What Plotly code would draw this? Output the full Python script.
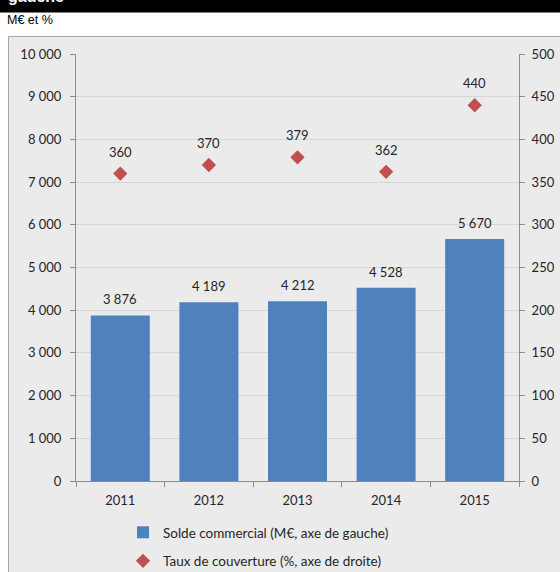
import plotly.graph_objects as go

years = ["2011", "2012", "2013", "2014", "2015"]
solde = [3876, 4189, 4212, 4528, 5670]
taux = [360, 370, 379, 362, 440]
left_ticks = list(range(0, 10001, 1000))
right_ticks = list(range(0, 501, 50))

W, H = 560, 572
L, R, T, B = 76, 41, 54, 91
PW, PH = W - L - R, H - T - B


def px(x):
    return (x - L) / PW


def py(y):
    return (H - B - y) / PH


def fmt(v):
    return f"{v:,}".replace(",", "\u00a0")


FONT = "Lato"
TXT = "#262626"
AXC = "#8c8c8c"
BG = "#ebebeb"

fig = go.Figure()
fig.add_trace(go.Bar(
    x=years, y=solde, name="Solde commercial (M€, axe de gauche)",
    marker=dict(color="#4f81bd", line=dict(width=0)),
    legendgroup="a", yaxis="y",
))
fig.add_trace(go.Scatter(
    x=years, y=taux, mode="markers", name="Taux de couverture (%, axe de droite)",
    marker=dict(symbol="diamond", size=11, color="#c0504d"),
    legendgroup="b", yaxis="y2",
))

ann = []
for i, v in enumerate(solde):
    ann.append(dict(x=i, y=v, xref="x", yref="y", text=fmt(v), showarrow=False,
                    yanchor="middle", yshift=16, font=dict(family=FONT, size=13, color=TXT)))
for i, v in enumerate(taux):
    ann.append(dict(x=i, y=v, xref="x", yref="y2", text=fmt(v), showarrow=False,
                    yanchor="middle", yshift=22, font=dict(family=FONT, size=13, color=TXT)))
ann.append(dict(x=px(6), y=py(7), xref="paper", yref="paper", text="<b>gauche</b>",
                showarrow=False, xanchor="left", yanchor="bottom",
                font=dict(family="Liberation Sans", size=16, color="white")))
ann.append(dict(x=px(5), y=py(20), xref="paper", yref="paper", text="M€ et %",
                showarrow=False, xanchor="left", yanchor="middle",
                font=dict(family="Liberation Sans", size=12.5, color="black")))

shapes = [
    dict(type="rect", xref="paper", yref="paper", x0=px(8.5), x1=px(570), y0=py(580), y1=py(36.5),
         fillcolor=BG, line=dict(color="#a6a6a6", width=1), layer="below"),
    dict(type="rect", xref="paper", yref="paper", x0=px(-5), x1=px(570), y0=py(12.5), y1=py(-10),
         fillcolor="black", line=dict(width=0), layer="below"),
]

fig.update_layout(
    width=W, height=H,
    margin=dict(l=L, r=R, t=T, b=B, autoexpand=False),
    paper_bgcolor="white", plot_bgcolor=BG,
    separators=", ",
    bargap=0.334,
    font=dict(family=FONT, size=13, color=TXT),
    showlegend=True,
    legend=dict(orientation="v", x=px(123), xanchor="left", y=py(517), yanchor="top",
                traceorder="grouped", tracegroupgap=8, bgcolor="rgba(0,0,0,0)",
                font=dict(family=FONT, size=13.5, color=TXT), itemwidth=30),
    xaxis=dict(type="category", range=[-0.5, len(years) - 0.5], showline=True,
               linecolor=AXC, linewidth=1,
               ticks="outside", tickson="boundaries", ticklen=5, tickcolor=AXC,
               ticklabelstandoff=7,
               showgrid=False, tickangle=0, tickfont=dict(family=FONT, size=13, color=TXT)),
    yaxis=dict(range=[0, 10000], tickvals=left_ticks, ticktext=[fmt(v) for v in left_ticks],
               showline=True, linecolor=AXC, linewidth=1, ticks="outside", ticklen=5,
               tickcolor=AXC, showgrid=True, gridcolor="#d6d6d6", gridwidth=1,
               zeroline=False, ticklabelstandoff=6,
               tickfont=dict(family=FONT, size=13, color=TXT)),
    yaxis2=dict(range=[0, 500], tickvals=right_ticks, overlaying="y", side="right",
                showline=True, linecolor=AXC, linewidth=1, ticks="outside", ticklen=5,
                tickcolor=AXC, showgrid=False, zeroline=False, ticklabelstandoff=4,
                tickfont=dict(family=FONT, size=13, color=TXT)),
    annotations=ann, shapes=shapes,
)

fig.write_html("out.html")
